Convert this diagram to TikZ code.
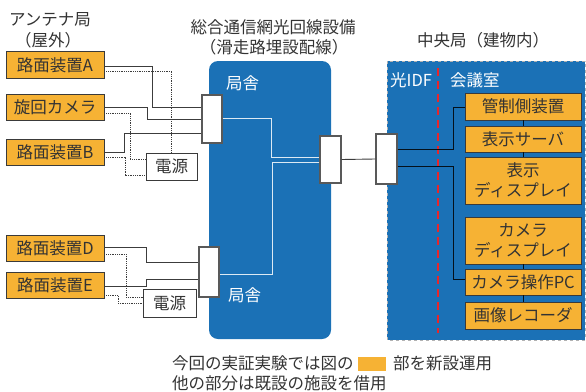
\documentclass[tikz,border=0pt]{standalone}
\usepackage{fontspec}
\setmainfont{Noto Sans CJK JP}
\definecolor{blu}{HTML}{1B71B6}
\definecolor{orng}{HTML}{F6B234}
\definecolor{txt}{HTML}{333333}
\definecolor{boxline}{HTML}{3A3A3A}
\definecolor{lin}{HTML}{3C3C3C}
\definecolor{idfred}{HTML}{E8262B}
\begin{document}
\begin{tikzpicture}[x=1pt,y=-1pt,
  font=\fontsize{16.5}{20}\selectfont, text=txt,
  obox/.style={draw=boxline, fill=orng, line width=0.9pt, inner sep=0pt, align=center},
  lbox/.style={obox, minimum width=98pt, minimum height=26.5pt},
  rbox/.style={obox, minimum width=116pt},
  pbox/.style={draw=boxline, fill=white, line width=0.9pt, inner sep=0pt},
  cbox/.style={draw=gray!70!black, fill=white, line width=1.2pt, inner sep=0pt, minimum width=20pt},
  sol/.style={draw=lin, line width=0.9pt},
  dot/.style={draw=lin, line width=0.8pt, densely dotted},
  wl/.style={draw=white!85!blu, line width=0.9pt},
  dl/.style={draw=black!85!blu, line width=1pt},
  wtxt/.style={text=white, inner sep=0pt}]
\useasboundingbox (0,0) rectangle (586,391);

% blue areas
\fill[blu, rounded corners=9pt] (209,61) rectangle (331,339);
\filldraw[fill=blu, draw=gray!60, dashed, line width=0.8pt] (387,61) rectangle (585,340);
\draw[idfred, line width=2pt, dash pattern=on 8pt off 5pt] (438,68) -- (438,333);

% titles
\node[inner sep=0pt] (t1) at (50,20) {アンテナ局};
\node[inner sep=0pt] (t1b) at (48,40) {（屋外）};
\node[inner sep=0pt] (t2) at (273,27) {総合通信網光回線設備};
\node[inner sep=0pt] (t2b) at (274,47) {（滑走路埋設配線）};
\node[inner sep=0pt] (t3) at (483,40) {中央局（建物内）};

\node[wtxt, anchor=west] (k1) at (226,83) {局舎};
\node[wtxt, anchor=west] (k2) at (228,295) {局舎};
\node[wtxt, anchor=west] (idf) at (390,80) {光IDF};
\node[wtxt, anchor=west] (kai) at (450,80) {会議室};

% left boxes
\node[lbox] (A) at (55,65) {路面装置A};
\node[lbox] (Cam) at (55,107.5) {旋回カメラ};
\node[lbox] (B) at (55,152.5) {路面装置B};
\node[lbox] (D) at (55,248.5) {路面装置D};
\node[lbox] (E) at (55,285.5) {路面装置E};
\node[pbox, minimum width=51pt, minimum height=27pt] (P1) at (171.5,166.5) {電源};
\node[pbox, minimum width=53pt, minimum height=28pt] (P2) at (169.5,303) {電源};

% connector boxes
\node[cbox, minimum height=48pt] (L1) at (212,119) {};
\node[cbox, minimum height=50pt] (L2) at (209,272) {};
\node[cbox, minimum width=21pt, minimum height=47pt] (M) at (330.5,159.5) {};
\node[cbox, minimum width=21pt, minimum height=50pt] (I) at (386.5,159) {};

% right boxes
\node[rbox, minimum height=27pt] (R1) at (523,106.5) {管制側装置};
\node[rbox, minimum height=26pt] (R2) at (523,139) {表示サーバ};
\node[rbox, minimum height=47pt] (R3) at (523,180.5) {表示\\ディスプレイ};
\node[rbox, minimum height=47pt] (R4) at (523,240.5) {カメラ\\ディスプレイ};
\node[rbox, minimum height=26pt] (R5) at (523,282) {カメラ操作PC};
\node[rbox, minimum height=27pt] (R6) at (523,315.5) {画像レコーダ};

% left connections
\draw[sol] (A.east|-0,66) -- (152,66) -- (152,107) -- (L1.west|-0,107);
\draw[dot] (A.east|-0,71) -| (P1.north);
\draw[sol] (Cam.east|-0,107) -- (147,107) -- (147,119) -- (L1.west|-0,119);
\draw[dot] (Cam.east|-0,113) -- (130,113) -- (130,159) -- (P1.west|-0,159);
\draw[sol] (B.east|-0,152) -- (124,152) -- (124,133) -- (L1.west|-0,133);
\draw[dot] (B.east|-0,157) -- (125,157) -- (125,175) -- (P1.west|-0,175);
\draw[sol] (D.east|-0,247) -- (146,247) -- (146,262) -- (L2.west|-0,262);
\draw[dot] (D.east|-0,254) -- (126,254) -- (126,297) -- (P2.west|-0,297);
\draw[sol] (E.east|-0,286) -- (146,286) -- (146,279) -- (L2.west|-0,279);
\draw[dot] (E.east|-0,295) -- (118,295) -- (118,303) -- (P2.west|-0,303);

% inside station
\draw[wl] (L1.east|-0,118) -- (271,118) -- (271,157) -- (M.west|-0,157);
\draw[wl] (M.west|-0,162) -- (272,162) -- (272,274) -- (L2.east|-0,274);
\draw[sol] (M.east) -- (I.west);

% central office
\draw[dl] (I.east|-0,149) -- (453,149) -- (453,107) -- (R1.west|-0,107);
\draw[dl] (I.east|-0,166) -- (453,166) -- (453,279) -- (R5.west|-0,279);
\draw[dl] (R1.south) -- (R2.north);
\draw[dl] (R2.south) -- (R3.north);
\draw[dl] (R4.south) -- (R5.north);
\draw[dl] (R5.south) -- (R6.north);

% legend
\node[inner sep=0pt, anchor=west] (lg1) at (172,363) {今回の実証実験では図の};
\node[fill=orng, minimum width=28pt, minimum height=14pt, inner sep=0pt] (sw) at (372,364) {};
\node[inner sep=0pt, anchor=west] (lg2) at (393,363) {部を新設運用};
\node[inner sep=0pt, anchor=west] (lg3) at (172,383) {他の部分は既設の施設を借用};
\end{tikzpicture}
\end{document}
